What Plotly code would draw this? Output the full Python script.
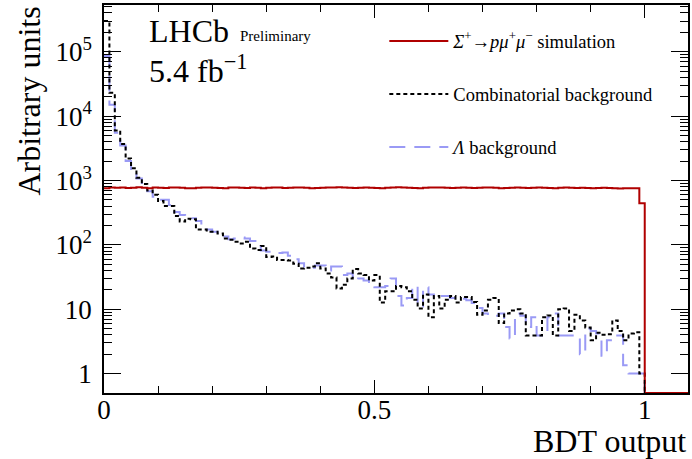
import numpy as np
import plotly.graph_objects as go

# ---------------- data ----------------
bin_low, bin_high, n_bins = 0.0, 1.0, 100
x_axis_max = 1.08

signal = [760, 775, 770, 780, 765, 770, 785, 770, 760, 775,
          770, 765, 780, 775, 770, 760, 755, 770, 775, 780,
          770, 765, 760, 775, 780, 770, 765, 775, 770, 760,
          770, 780, 775, 765, 770, 775, 780, 770, 760, 765,
          770, 775, 780, 785, 775, 770, 765, 770, 775, 770,
          765, 760, 770, 780, 785, 775, 770, 765, 760, 770,
          775, 780, 775, 770, 765, 770, 775, 770, 765, 770,
          780, 775, 770, 760, 765, 770, 775, 770, 765, 770,
          775, 770, 765, 760, 770, 775, 770, 765, 770, 765,
          760, 765, 770, 765, 760, 750, 755, 760, 755, 445]

combinatorial = [300000, 23000, 6000, 3700, 2200, 1550, 1100, 880, 700, 600,
                 480, 400, 400, 280, 230, 255, 250, 173, 173, 160,
                 160, 150, 126, 120, 112, 105, 112, 88, 83, 96,
                 65, 66, 58, 58, 57, 51, 43, 44, 46, 52,
                 43, 36, 31, 21, 24, 30, 42, 36, 34, 28,
                 34, 12.7, 19, 19, 23, 22, 19, 14, 10.3, 17,
                 7.5, 16, 10.3, 14, 16, 12.7, 15.5, 15.5, 13, 8.2,
                 9.6, 14, 14.9, 6.1, 8.6, 9.6, 10, 8.6, 3.9, 3.9,
                 3.9, 7.5, 8, 3.9, 10, 10.3, 4.6, 8.2, 6.7, 5.2,
                 3.3, 4.3, 4.0, 4.1, 6.7, 4.6, 3.3, 4.2, 4.4, 1.0]

lambda_bkg = [86000, 15000, 5500, 3500, 2000, 1450, 1070, 850, 680, 560,
              500, 500, 415, 325, 290, 258, 258, 235, 173, 173,
              160, 150, 135, 122, 126, 130, 126, 115, 105, 82,
              78, 78, 75, 76, 68, 60, 52, 44, 44, 48,
              48, 40, 46, 46, 34, 36, 28, 30, 28, 23,
              22, 22, 23, 30, 16, 11.4, 15, 23, 11, 22,
              17, 15, 16, 16, 15, 14.7, 14.5, 13.8, 12.5, 10.5,
              8.6, 7.9, 7.9, 8.6, 5.3, 3.5, 8.6, 7.9, 5.3, 7.5,
              3.9, 3.9, 7.5, 8.6, 3.9, 3.9, 3.9, 3.9, 2.0, 5.0,
              4.6, 4.2, 1.9, 3.3, 3.9, 3.9, 1.35, 1.0, 1.0, 1.0]

y_tick_values = [1, 10, 100, 1000, 10000, 100000]
y_tick_labels = ["1", "10", "10<sup>2</sup>", "10<sup>3</sup>", "10<sup>4</sup>", "10<sup>5</sup>"]

# ---------------- helpers ----------------
Y_LOG_MIN, Y_LOG_MAX = -0.301, 5.726
floor_val = 10 ** Y_LOG_MIN
edges = np.linspace(bin_low, bin_high, n_bins + 1)


def step_xy(values):
    vals = [v if v > 0 else floor_val for v in values]
    xs = list(edges) + [x_axis_max]
    ys = vals + [floor_val, floor_val]
    return xs, ys


FONT = "Liberation Serif"
RED = "#b00000"
BLUE = "#9a9af5"

fig = go.Figure()

x, y = step_xy(lambda_bkg)
fig.add_trace(go.Scatter(x=x, y=y, mode="lines", line_shape="hv",
                         line=dict(color=BLUE, width=2, dash="16px,9px"),
                         name="<i>Λ</i> background", legendgroup="c", legendrank=3))
x, y = step_xy(combinatorial)
fig.add_trace(go.Scatter(x=x, y=y, mode="lines", line_shape="hv",
                         line=dict(color="black", width=2, dash="4px,3px"),
                         name="Combinatorial background", legendgroup="b", legendrank=2))
x, y = step_xy(signal)
fig.add_trace(go.Scatter(x=x, y=y, mode="lines", line_shape="hv",
                         line=dict(color=RED, width=2),
                         name="<i>Σ</i><sup>+</sup>→<i>pμ</i><sup>+</sup><i>μ</i><sup>−</sup> simulation",
                         legendgroup="a", legendrank=1))

minor_y = [m * 10 ** d for d in range(0, 6) for m in range(2, 10)]

fig.update_layout(
    width=692, height=459,
    margin=dict(l=104, r=2, t=5, b=66),
    paper_bgcolor="white", plot_bgcolor="white",
    font=dict(family=FONT, color="black"),
    showlegend=True,
    legend=dict(x=0.48, y=0.955, xanchor="left", yanchor="top",
                font=dict(family=FONT, size=18.5, color="black"),
                bgcolor="rgba(0,0,0,0)", tracegroupgap=26,
                traceorder="grouped", itemwidth=59),
    xaxis=dict(range=[0, x_axis_max], showgrid=False, zeroline=False,
               showline=True, linecolor="black", linewidth=1.5, mirror="allticks",
               ticks="inside", ticklen=13, tickwidth=1, tickcolor="black",
               tick0=0, dtick=0.5,
               minor=dict(tickmode="linear", tick0=0, dtick=0.1, ticks="inside",
                          ticklen=7, tickcolor="black", tickwidth=1),
               tickfont=dict(family=FONT, size=27), ticklabelstandoff=-8),
    yaxis=dict(type="log", range=[Y_LOG_MIN, Y_LOG_MAX], showgrid=False, zeroline=False,
               showline=True, linecolor="black", linewidth=1.5, mirror="allticks",
               ticks="inside", ticklen=17, tickwidth=1, tickcolor="black",
               tickmode="array", tickvals=y_tick_values, ticktext=y_tick_labels,
               minor=dict(tickmode="array", tickvals=minor_y, ticks="inside",
                          ticklen=8, tickcolor="black", tickwidth=1),
               tickfont=dict(family=FONT, size=27), ticklabelstandoff=5),
)

annotations = [
    dict(text="LHCb", x=0.074, y=0.933, xref="paper", yref="paper",
         xanchor="left", yanchor="middle", showarrow=False,
         font=dict(family=FONT, size=32)),
    dict(text="Preliminary", x=0.229, y=0.92, xref="paper", yref="paper",
         xanchor="left", yanchor="middle", showarrow=False,
         font=dict(family=FONT, size=15)),
    dict(text="5.4 fb<sup>−1</sup>", x=0.074, y=0.834, xref="paper", yref="paper",
         xanchor="left", yanchor="middle", showarrow=False,
         font=dict(family=FONT, size=32)),
    dict(text="BDT output", x=1.0, y=-0.124, xref="paper", yref="paper",
         xanchor="right", yanchor="middle", showarrow=False,
         font=dict(family=FONT, size=32)),
    dict(text="Arbitrary units", x=-0.13, y=1.0, xref="paper", yref="paper",
         xanchor="center", yanchor="top", showarrow=False, textangle=-90,
         font=dict(family=FONT, size=32)),
]
fig.update_layout(annotations=annotations)

fig.write_html("out.html", config={"displayModeBar": False},
               post_script="document.body.style.margin='0px';")
